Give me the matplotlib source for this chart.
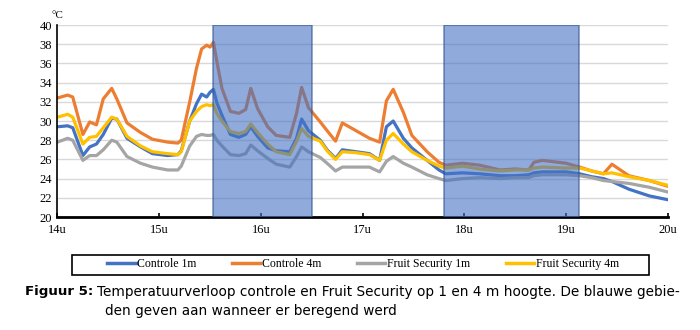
import numpy as np
import matplotlib.pyplot as plt
from matplotlib.lines import Line2D
from matplotlib.patches import Rectangle

# minuten na 14u
minuten = [0, 6, 9, 15, 19, 23, 27, 32, 35, 41, 49, 56, 65, 71, 73, 78, 82, 85, 88, 90,
           92, 94, 97, 102, 107, 111, 114, 118, 124, 129, 137, 141, 144, 148, 155, 159,
           164, 168, 176, 184, 190, 194, 198, 204, 209, 218, 225, 229, 239, 249, 261,
           270, 278, 281, 286, 300, 308, 315, 322, 327, 337, 349, 360]

controle_1m = [29.4, 29.5, 29.3, 26.4, 27.3, 27.6, 28.6, 30.3, 30.2, 28.2, 27.3, 26.6, 26.4,
               26.5, 26.9, 30.0, 31.8, 32.8, 32.5, 33.0, 33.3, 31.9, 30.6, 28.6, 28.3, 28.6,
               29.4, 28.4, 27.2, 26.9, 26.8, 28.2, 30.2, 29.0, 28.0, 27.0, 26.1, 27.0, 26.8,
               26.6, 25.9, 29.4, 30.0, 28.2, 27.2, 25.9, 24.9, 24.5, 24.6, 24.5, 24.3, 24.3,
               24.4, 24.6, 24.7, 24.7, 24.5, 24.2, 24.0, 23.7, 22.9, 22.2, 21.8]

controle_4m = [32.4, 32.7, 32.5, 28.6, 29.9, 29.6, 32.3, 33.4, 32.3, 29.8, 28.8, 28.1, 27.8,
               27.7, 28.0, 32.0, 35.5, 37.5, 37.9, 37.7, 38.2, 36.2, 33.4, 31.0, 30.8, 31.2,
               33.4, 31.3, 29.4, 28.5, 28.3, 30.8, 33.5, 31.4, 29.9, 29.0, 27.9, 29.8, 29.0,
               28.2, 27.8, 32.1, 33.3, 30.9, 28.5, 26.8, 25.7, 25.4, 25.6, 25.4, 24.9, 25.0,
               24.9, 25.7, 25.9, 25.6, 25.2, 24.8, 24.5, 25.5, 24.3, 23.8, 23.2]

fs_1m = [27.8, 28.2, 28.0, 25.9, 26.4, 26.4, 27.0, 28.0, 27.8, 26.3, 25.6, 25.2, 24.9,
         24.9, 25.3, 27.4, 28.4, 28.6, 28.5, 28.5, 28.6, 28.0, 27.4, 26.5, 26.4, 26.6,
         27.5, 26.9, 26.1, 25.5, 25.2, 26.3, 27.3, 26.8, 26.2, 25.6, 24.8, 25.2, 25.2,
         25.2, 24.7, 25.8, 26.3, 25.6, 25.2, 24.4, 24.0, 23.8, 24.0, 24.1, 24.0, 24.1,
         24.1, 24.3, 24.4, 24.4, 24.3, 24.1, 23.8, 23.7, 23.5, 23.1, 22.6]

fs_4m = [30.4, 30.7, 30.4, 27.6, 28.3, 28.4, 29.3, 30.4, 30.2, 28.4, 27.4, 26.8, 26.6,
         26.5, 26.8, 30.0, 31.0, 31.5, 31.7, 31.6, 31.7, 30.8, 30.0, 28.9, 28.7, 28.9,
         29.7, 28.8, 27.6, 26.8, 26.5, 27.9, 29.2, 28.4, 27.9, 26.9, 26.0, 26.8, 26.7,
         26.5, 25.9, 28.0, 28.7, 27.6, 26.8, 25.9, 25.3, 25.1, 25.3, 25.0, 24.8, 24.9,
         24.9, 25.1, 25.2, 25.1, 25.1, 24.8, 24.5, 24.6, 24.2, 23.8, 23.3]

# periodes met beregening (uur)
beregening = [(15.53, 16.50), (17.80, 19.13)]

uren = [14, 15, 16, 17, 18, 19, 20]
uur_labels = ['14u', '15u', '16u', '17u', '18u', '19u', '20u']

reeksen = [('Controle 1m', controle_1m, '#4472C4'),
           ('Controle 4m', controle_4m, '#ED7D31'),
           ('Fruit Security 1m', fs_1m, '#A5A5A5'),
           ('Fruit Security 4m', fs_4m, '#FFC000')]

serif = 'Liberation Serif'
t = 14 + np.array(minuten) / 60.0

fig = plt.figure(figsize=(7, 3.3), dpi=100)
ax = fig.add_axes([0.0821, 0.3424, 0.872, 0.5818])

for naam, waarden, kleur in reeksen:
    ax.plot(t, waarden, color=kleur, lw=2.3, zorder=2, solid_joinstyle='round')

for start, eind in beregening:
    ax.axvspan(start, eind, facecolor='#4472C4', alpha=0.6, edgecolor='#2F528F',
               lw=1.2, zorder=3)

ax.set_xlim(14, 20)
ax.set_ylim(20, 40)
ax.set_yticks(range(20, 41, 2))
ax.set_xticks(uren)
ax.set_xticklabels(uur_labels)
for lab in ax.get_xticklabels() + ax.get_yticklabels():
    lab.set_fontfamily(serif)
    lab.set_fontsize(9)
ax.tick_params(axis='y', length=0, pad=4)
ax.tick_params(axis='x', direction='in', length=3, width=1.2, pad=5)
ax.yaxis.grid(True, color='#D9D9D9', lw=1, zorder=0)
ax.set_axisbelow(True)
ax.spines['top'].set_visible(False)
ax.spines['right'].set_visible(False)
ax.spines['left'].set_linewidth(1.2)
ax.spines['bottom'].set_linewidth(2)

fig.text(57 / 700, 1 - 16 / 330, '°C', ha='center', va='center',
         family=serif, fontsize=8)

# legenda in een kader onder de grafiek
handles = [Line2D([], [], color=k, lw=2.5) for _, _, k in reeksen]
fig.legend(handles, [n for n, _, _ in reeksen], loc='center', ncol=4,
           bbox_to_anchor=(363 / 700, 1 - 264 / 330), frameon=False,
           prop={'family': serif, 'size': 8.5}, handlelength=2.4,
           handletextpad=0.15, columnspacing=3.0)
fig.patches.append(Rectangle((72 / 700, 1 - 275 / 330), 577 / 700, 20 / 330,
                             transform=fig.transFigure, fill=False,
                             ec='black', lw=1.2))

fig.text(93 / 700, 1 - 292 / 330, 'Figuur 5:', ha='right', va='center',
         fontsize=9.6, fontweight='bold', family='DejaVu Sans')
fig.text(97 / 700, 1 - 292 / 330,
         'Temperatuurverloop controle en Fruit Security op 1 en 4 m hoogte. De blauwe gebie-',
         ha='left', va='center', fontsize=9.8, family='DejaVu Sans')
fig.text(105 / 700, 1 - 311 / 330, 'den geven aan wanneer er beregend werd',
         ha='left', va='center', fontsize=9.8, family='DejaVu Sans')

fig.savefig('out.png', dpi=100)
